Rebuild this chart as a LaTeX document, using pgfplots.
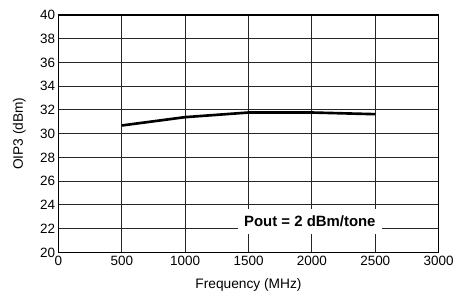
\documentclass[border=0pt]{standalone}
\usepackage{fontspec}
\setmainfont{Liberation Sans}
\usepackage{pgfplots}
\pgfplotsset{compat=1.18}
\begin{document}
\begin{tikzpicture}[x=1pt,y=1pt]
\begin{axis}[
  at={(44.25pt,29.25pt)}, anchor=south west,
  width=288pt, height=180pt, scale only axis,
  xmin=0, xmax=3000, ymin=20, ymax=40,
  xtick={0,500,...,3000}, ytick={20,22,...,40},
  grid=major,
  major grid style={black!85, line width=0.7pt},
  axis line style={black, line width=1.1pt},
  tick style={draw=none},
  /pgf/number format/assume math mode=true,
  /pgf/number format/set thousands separator={},
  tick label style={font=\fontsize{10.2}{11}\selectfont},
  xticklabel style={yshift=1pt},
  yticklabel style={xshift=1pt},
  xlabel={Frequency (MHz)}, ylabel={OIP3 (dBm)},
  label style={font=\fontsize{10.4}{11}\selectfont},
  xlabel style={yshift=-3pt},
  ylabel style={yshift=4pt},
  clip=false,
]
\addplot[black, line width=2pt] coordinates {(500,30.69) (1000,31.39) (1500,31.78) (2000,31.78) (2500,31.64)};
\node[fill=white, inner xsep=5pt, inner ysep=5pt, font=\bfseries\fontsize{11.3}{12}\selectfont] at (axis cs:1984,22.6) {Pout = 2 dBm/tone};
\end{axis}
\path (0,0) rectangle (343.5pt,220.5pt);
\end{tikzpicture}
\end{document}
